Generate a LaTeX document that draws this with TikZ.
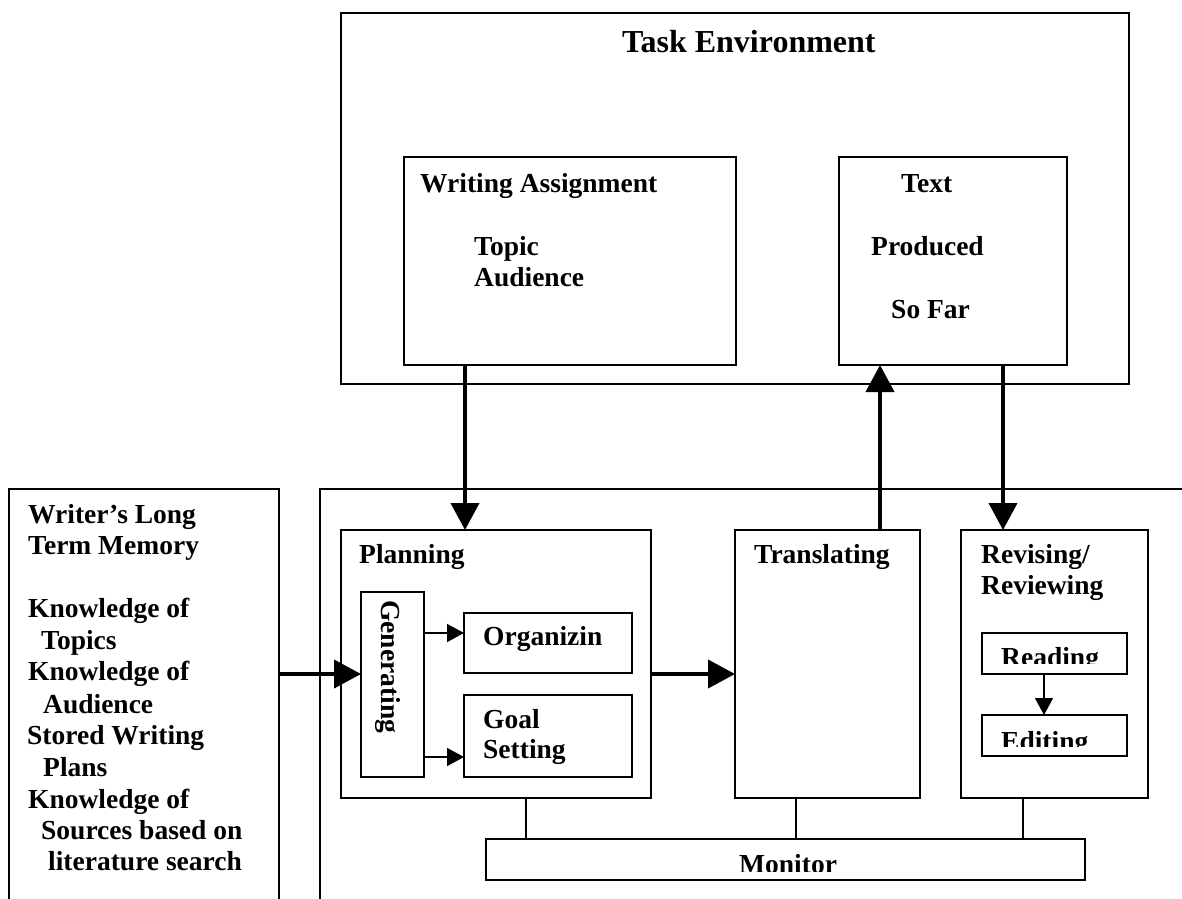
\documentclass[tikz,border=0pt]{standalone}
\usepackage{fontspec}
\setmainfont{Liberation Serif}
\usetikzlibrary{arrows.meta}
\begin{document}
\begin{tikzpicture}[x=1pt,y=-1pt,
  box/.style={draw, line width=1.5pt, inner sep=0pt, outer sep=0pt, anchor=north west},
  lbl/.style={anchor=base west, inner sep=0pt, font=\fontsize{27.5}{33}\bfseries\selectfont},
  titlelbl/.style={anchor=base west, inner sep=0pt, font=\fontsize{32}{38}\bfseries\selectfont},
  bigarrow/.style={line width=4pt, -{Triangle[length=27pt,width=28pt]}},
  smallarrow/.style={line width=1.5pt, -{Triangle[length=17pt,width=18pt]}},
  link/.style={line width=1.5pt}]
\useasboundingbox (0,0) rectangle (1182,898);
\clip (0,0) rectangle (1182,898);
\fill[white] (0,0) rectangle (1182,898);

% Task environment
\node[box, minimum width=788pt, minimum height=371pt] (task) at (341,13) {};
\node[box, minimum width=332pt, minimum height=208pt] (wa) at (404,157) {};
\node[box, minimum width=228pt, minimum height=208pt] (textbox) at (839,157) {};
\node[titlelbl] (ttask) at (622,52) {Task Environment};
\node[lbl] (twa) at (420,192) {Writing Assignment};
\node[lbl] (ttopic) at (474,255) {Topic};
\node[lbl] (taud) at (474,286) {Audience};
\node[lbl] (ttext) at (901,192) {Text};
\node[lbl] (tprod) at (871,255) {Produced};
\node[lbl] (tsofar) at (891,318) {So Far};

% Long term memory
\node[box, minimum width=270pt, minimum height=480pt] (ltm) at (9,489) {};
\node[lbl] (l1) at (28,523) {Writer’s Long};
\node[lbl] (l2) at (28,554) {Term Memory};
\node[lbl] (l3) at (28,617) {Knowledge of};
\node[lbl] (l4) at (41,649) {Topics};
\node[lbl] (l5) at (28,680) {Knowledge of};
\node[lbl] (l6) at (43,713) {Audience};
\node[lbl] (l7) at (27,744) {Stored Writing};
\node[lbl] (l8) at (43,776) {Plans};
\node[lbl] (l9) at (28,808) {Knowledge of};
\node[lbl] (l10) at (41,839) {Sources based on};
\node[lbl] (l11) at (48,870) {literature search};

% Writing process
\node[box, minimum width=900pt, minimum height=480pt] (proc) at (320,489) {};
\node[box, minimum width=310pt, minimum height=268pt] (plan) at (341,530) {};
\node[lbl] (tplan) at (359,563) {Planning};
\node[box, minimum width=63pt, minimum height=185pt] (gen) at (361,592) {};
\node[lbl, rotate=-90] (tgen) at (381,600) {Generating};
\node[box, minimum width=168pt, minimum height=60pt] (org) at (464,613) {};
\node[lbl] (torg) at (483,645) {Organizin};
\node[box, minimum width=168pt, minimum height=82pt] (goal) at (464,695) {};
\node[lbl] (tgoal) at (483,728) {Goal};
\node[lbl] (tset) at (483,758) {Setting};

\node[box, minimum width=185pt, minimum height=268pt] (trans) at (735,530) {};
\node[lbl] (ttrans) at (754,563) {Translating};

\node[box, minimum width=187pt, minimum height=268pt] (rev) at (961,530) {};
\node[lbl] (trev1) at (981,563) {Revising/};
\node[lbl] (trev2) at (981,594) {Reviewing};
\node[box, minimum width=145pt, minimum height=41pt] (read) at (982,633) {};
\node[box, minimum width=145pt, minimum height=41pt] (edit) at (982,715) {};
\begin{scope}
  \clip (982,633) rectangle (1127,663);
  \node[lbl] (tread) at (1001,666) {Reading};
\end{scope}
\begin{scope}
  \clip (982,715) rectangle (1127,746);
  \node[lbl] (tedit) at (1001,750) {Editing};
\end{scope}

\node[box, minimum width=599pt, minimum height=41pt] (mon) at (486,839) {};
\begin{scope}
  \clip (486,839) rectangle (1085,871);
  \node[lbl] (tmon) at (739,873) {Monitor};
\end{scope}

% connectors
\draw[bigarrow] ([xshift=61pt]wa.south west) -- ([xshift=124pt]plan.north west);
\draw[bigarrow] ([xshift=145pt]trans.north west) -- ([xshift=41pt]textbox.south west);
\draw[bigarrow] ([xshift=164pt]textbox.south west) -- ([xshift=42pt]rev.north west);
\draw[bigarrow] ([yshift=-185pt]ltm.north east) -- ([yshift=-82pt]gen.north west);
\draw[bigarrow] ([yshift=-144pt]plan.north east) -- ([yshift=-144pt]trans.north west);
\draw[smallarrow] ([yshift=-41pt]gen.north east) -- ([yshift=-20pt]org.north west);
\draw[smallarrow] ([yshift=-165pt]gen.north east) -- ([yshift=-62pt]goal.north west);
\draw[smallarrow] ([xshift=62pt]read.south west) -- ([xshift=62pt]edit.north west);
\draw[link] ([xshift=185pt]plan.south west) -- ([xshift=40pt]mon.north west);
\draw[link] ([xshift=61pt]trans.south west) -- ([xshift=310pt]mon.north west);
\draw[link] ([xshift=62pt]rev.south west) -- ([xshift=537pt]mon.north west);
\end{tikzpicture}
\end{document}
